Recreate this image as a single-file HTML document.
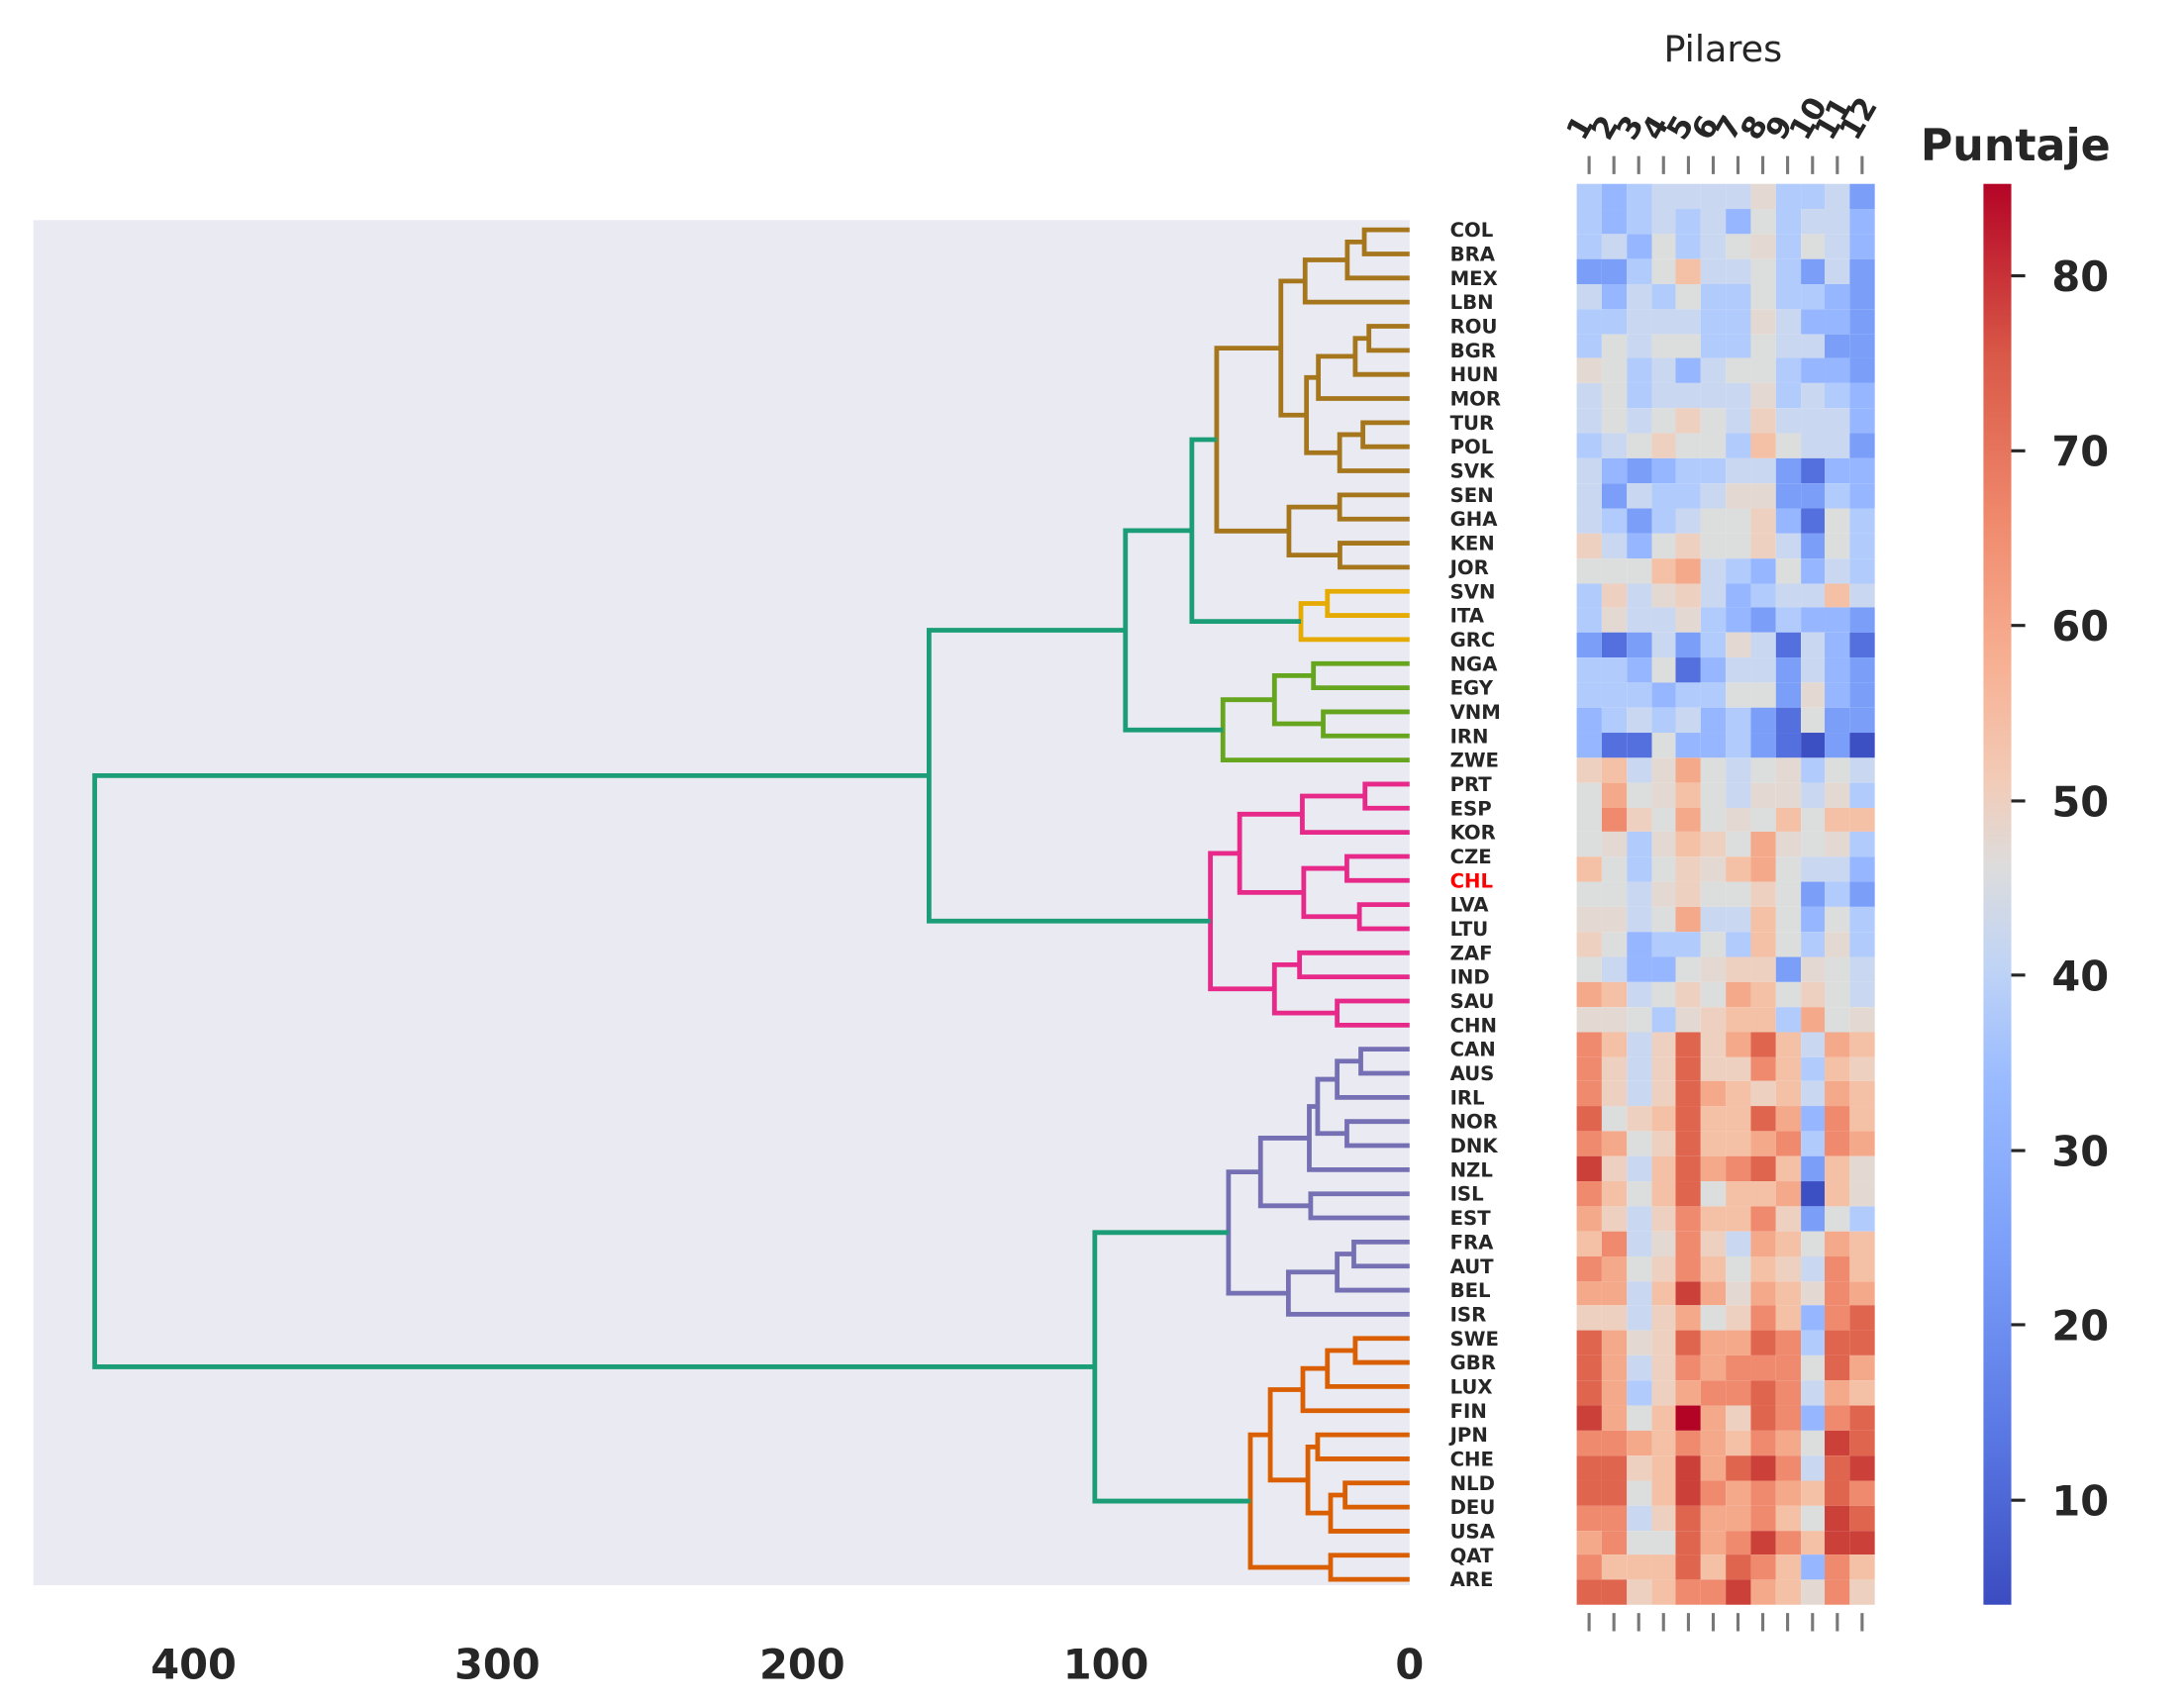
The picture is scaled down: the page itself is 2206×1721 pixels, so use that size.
<!DOCTYPE html>
<html><head><meta charset="utf-8"><style>
html,body{margin:0;padding:0;background:#fff;}
#w{position:absolute;left:0;top:0;width:1568px;height:1223px;transform:scale(1.40689);transform-origin:0 0;font-family:"DejaVu Sans","Liberation Sans",sans-serif;}
#hm{position:absolute;left:1132px;top:132.2px;width:214px;height:1020px;display:grid;grid-template-columns:repeat(12,1fr);grid-template-rows:repeat(57,1fr);}
#hm i{display:block;}
.A{background:#3d50c3}.B{background:#5470de}.C{background:#7b9ff9}.D{background:#96b7ff}.E{background:#b1cbfc}.F{background:#c9d7f0}.G{background:#dcdddd}.g{background:#e4d9d2}.H{background:#eed0c0}.I{background:#f4c0a6}.J{background:#f5a98b}.K{background:#ef8a6e}.L{background:#e0654f}.M{background:#cc403a}.N{background:#b40426}
#cb{position:absolute;left:1424px;top:132.2px;width:19.5px;height:1020px;background:linear-gradient(to top,#3b4cc0 0%,#5a78e4 12%,#7b9ff9 25%,#9abbff 37%,#c0d4f5 45%,#dddcdc 52%,#f2cbb7 58%,#f7b194 66%,#f08b6e 76%,#d95847 88%,#b40426 100%);}
</style></head><body><div id="w">
<svg width="1568" height="1223" style="position:absolute;left:0;top:0" xmlns="http://www.w3.org/2000/svg">
<rect x="24" y="158" width="988" height="980" fill="#eaeaf2"/>
<g fill="none" stroke-width="3.4" stroke-linejoin="miter">
<g stroke="#a6761d">
<path d="M1012 165H979.5V182.3H1012"/><path d="M979.5 173.7H967.3V199.6H1012"/><path d="M967.3 186.6H937V216.9H1012"/>
<path d="M1012 234.2H982.8V251.5H1012"/><path d="M982.8 242.9H973V268.8H1012"/><path d="M973 255.8H946.5V286.1H1012"/>
<path d="M1012 303.4H978.5V320.7H1012"/><path d="M978.5 312H961.8V338H1012"/><path d="M946.5 271H938V325H961.8"/>
<path d="M937 201.8H919.6V298H938"/><path d="M1012 355.3H961.8V372.6H1012"/><path d="M1012 389.9H962V407.2H1012"/>
<path d="M961.8 364H925.4V398.5H962"/><path d="M919.6 249.9H873.5V381.2H925.4"/>
</g>
<g stroke="#e6ab02"><path d="M1012 424.5H953V441.8H1012"/><path d="M953 433.2H934V459.1H1012"/></g>
<g stroke="#66a61e"><path d="M1012 476.4H943V493.7H1012"/><path d="M1012 511H950V528.3H1012"/><path d="M943 485H915V519.6H950"/><path d="M915 502.3H878V545.6H1012"/></g>
<g stroke="#e7298a"><path d="M1012 562.9H980V580.2H1012"/><path d="M980 571.5H935V597.5H1012"/><path d="M1012 614.8H967V632.1H1012"/><path d="M1012 649.4H976V666.7H1012"/><path d="M967 623.4H936V658H976"/><path d="M935 584.5H890V640.7H936"/><path d="M1012 684H933V701.3H1012"/><path d="M1012 718.6H960V735.9H1012"/><path d="M933 692.6H915V727.2H960"/><path d="M890 612.6H869V709.9H915"/></g>
<g stroke="#7570b3"><path d="M1012 753.2H977V770.5H1012"/><path d="M977 761.8H960V787.8H1012"/><path d="M1012 805.1H967V822.4H1012"/><path d="M960 774.8H946V813.7H967"/><path d="M946 794.3H940V839.7H1012"/><path d="M1012 857H941V874.3H1012"/><path d="M940 817H905V865.6H941"/><path d="M1012 891.6H972V908.9H1012"/><path d="M972 900.2H960V926.2H1012"/><path d="M960 913.2H925V943.5H1012"/><path d="M905 841.3H882V928.4H925"/></g>
<g stroke="#d95f02"><path d="M1012 960.8H973V978.1H1012"/><path d="M973 969.5H953V995.4H1012"/><path d="M953 982.4H935.4V1012.7H1012"/><path d="M1012 1030H946V1047.3H1012"/><path d="M1012 1064.6H965.7V1081.9H1012"/><path d="M965.7 1073.3H955.3V1099.2H1012"/><path d="M946 1038.7H939V1086.2H955.3"/><path d="M935.4 997.6H912V1062.5H939"/><path d="M1012 1116.5H955.3V1133.8H1012"/><path d="M912 1030H897.7V1125.2H955.3"/></g>
<g stroke="#1b9e77"><path d="M873.5 315.6H855.7V446.1H934"/><path d="M855.7 380.9H808V524H878"/><path d="M808 452.4H667V661.2H869"/><path d="M882 884.8H786V1077.6H897.7"/><path d="M667 556.8H68V981.2H786"/></g>
</g>
<g font-weight="bold" font-size="14" fill="#262626">
<text x="1041" y="170">COL</text><text x="1041" y="187.3">BRA</text><text x="1041" y="204.6">MEX</text><text x="1041" y="221.9">LBN</text><text x="1041" y="239.2">ROU</text><text x="1041" y="256.5">BGR</text><text x="1041" y="273.8">HUN</text><text x="1041" y="291.1">MOR</text><text x="1041" y="308.4">TUR</text><text x="1041" y="325.7">POL</text><text x="1041" y="343">SVK</text><text x="1041" y="360.3">SEN</text><text x="1041" y="377.6">GHA</text><text x="1041" y="394.9">KEN</text><text x="1041" y="412.2">JOR</text><text x="1041" y="429.5">SVN</text><text x="1041" y="446.8">ITA</text><text x="1041" y="464.1">GRC</text><text x="1041" y="481.4">NGA</text><text x="1041" y="498.7">EGY</text><text x="1041" y="516">VNM</text><text x="1041" y="533.3">IRN</text><text x="1041" y="550.6">ZWE</text><text x="1041" y="567.9">PRT</text><text x="1041" y="585.2">ESP</text><text x="1041" y="602.5">KOR</text><text x="1041" y="619.8">CZE</text><text x="1041" y="637.1" fill="#ff0000">CHL</text><text x="1041" y="654.4">LVA</text><text x="1041" y="671.7">LTU</text><text x="1041" y="689">ZAF</text><text x="1041" y="706.3">IND</text><text x="1041" y="723.6">SAU</text><text x="1041" y="740.9">CHN</text><text x="1041" y="758.2">CAN</text><text x="1041" y="775.5">AUS</text><text x="1041" y="792.8">IRL</text><text x="1041" y="810.1">NOR</text><text x="1041" y="827.4">DNK</text><text x="1041" y="844.7">NZL</text><text x="1041" y="862">ISL</text><text x="1041" y="879.3">EST</text><text x="1041" y="896.6">FRA</text><text x="1041" y="913.9">AUT</text><text x="1041" y="931.2">BEL</text><text x="1041" y="948.5">ISR</text><text x="1041" y="965.8">SWE</text><text x="1041" y="983.1">GBR</text><text x="1041" y="1000.4">LUX</text><text x="1041" y="1017.7">FIN</text><text x="1041" y="1035">JPN</text><text x="1041" y="1052.3">CHE</text><text x="1041" y="1069.6">NLD</text><text x="1041" y="1086.9">DEU</text><text x="1041" y="1104.2">USA</text><text x="1041" y="1121.5">QAT</text><text x="1041" y="1138.8">ARE</text>
</g>
<g font-weight="bold" font-size="29.5" fill="#262626" text-anchor="middle">
<text x="139" y="1205">400</text><text x="357" y="1205">300</text><text x="576" y="1205">200</text><text x="794" y="1205">100</text><text x="1012" y="1205">0</text>
</g>
<text x="1237" y="44" font-size="26" fill="#262626" text-anchor="middle">Pilares</text>
<text x="1447" y="115" font-size="31.5" font-weight="bold" fill="#262626" text-anchor="middle">Puntaje</text>
<g stroke="#777" stroke-width="2.2">
<path d="M1140.9 112V125M1158.7 112V125M1176.5 112V125M1194.3 112V125M1212.2 112V125M1230 112V125M1247.8 112V125M1265.6 112V125M1283.4 112V125M1301.3 112V125M1319.1 112V125M1336.9 112V125"/>
<path d="M1140.9 1158V1171M1158.7 1158V1171M1176.5 1158V1171M1194.3 1158V1171M1212.2 1158V1171M1230 1158V1171M1247.8 1158V1171M1265.6 1158V1171M1283.4 1158V1171M1301.3 1158V1171M1319.1 1158V1171M1336.9 1158V1171"/>
</g>
<g font-weight="bold" font-size="22" fill="#262626">
<text transform="translate(1137,102) rotate(-60)">1</text><text transform="translate(1155,102) rotate(-60)">2</text><text transform="translate(1173,102) rotate(-60)">3</text><text transform="translate(1191,102) rotate(-60)">4</text><text transform="translate(1209,102) rotate(-60)">5</text><text transform="translate(1227,102) rotate(-60)">6</text><text transform="translate(1244,102) rotate(-60)">7</text><text transform="translate(1262,102) rotate(-60)">8</text><text transform="translate(1280,102) rotate(-60)">9</text><text transform="translate(1297,102) rotate(-60)">10</text><text transform="translate(1315,102) rotate(-60)">11</text><text transform="translate(1333,102) rotate(-60)">12</text>
</g>
<g stroke="#262626" stroke-width="2.2"><path d="M1443 198H1454M1443 323.6H1454M1443 449H1454M1443 575H1454M1443 700H1454M1443 826H1454M1443 951H1454M1443 1077H1454"/></g>
<g font-weight="bold" font-size="29.5" fill="#262626">
<text x="1473" y="209">80</text><text x="1473" y="334.6">70</text><text x="1473" y="460">60</text><text x="1473" y="586">50</text><text x="1473" y="711">40</text><text x="1473" y="837">30</text><text x="1473" y="962">20</text><text x="1473" y="1088">10</text>
</g>
</svg>
<div id="cb"></div>
<div id="hm">
<i class=E></i><i class=D></i><i class=E></i><i class=F></i><i class=F></i><i class=F></i><i class=F></i><i class=g></i><i class=E></i><i class=E></i><i class=F></i><i class=C></i>
<i class=E></i><i class=D></i><i class=E></i><i class=F></i><i class=E></i><i class=F></i><i class=D></i><i class=G></i><i class=E></i><i class=F></i><i class=F></i><i class=D></i>
<i class=E></i><i class=F></i><i class=D></i><i class=G></i><i class=E></i><i class=F></i><i class=G></i><i class=g></i><i class=E></i><i class=G></i><i class=F></i><i class=D></i>
<i class=C></i><i class=C></i><i class=E></i><i class=G></i><i class=I></i><i class=F></i><i class=F></i><i class=G></i><i class=E></i><i class=C></i><i class=F></i><i class=C></i>
<i class=F></i><i class=D></i><i class=F></i><i class=E></i><i class=G></i><i class=E></i><i class=E></i><i class=G></i><i class=E></i><i class=E></i><i class=D></i><i class=C></i>
<i class=E></i><i class=E></i><i class=F></i><i class=F></i><i class=F></i><i class=E></i><i class=E></i><i class=g></i><i class=F></i><i class=D></i><i class=D></i><i class=C></i>
<i class=E></i><i class=G></i><i class=F></i><i class=G></i><i class=G></i><i class=E></i><i class=E></i><i class=G></i><i class=F></i><i class=F></i><i class=C></i><i class=C></i>
<i class=g></i><i class=G></i><i class=E></i><i class=F></i><i class=D></i><i class=F></i><i class=G></i><i class=G></i><i class=E></i><i class=D></i><i class=D></i><i class=C></i>
<i class=F></i><i class=G></i><i class=E></i><i class=F></i><i class=F></i><i class=F></i><i class=F></i><i class=g></i><i class=E></i><i class=F></i><i class=E></i><i class=D></i>
<i class=F></i><i class=G></i><i class=F></i><i class=G></i><i class=H></i><i class=G></i><i class=F></i><i class=H></i><i class=F></i><i class=F></i><i class=F></i><i class=D></i>
<i class=E></i><i class=F></i><i class=G></i><i class=H></i><i class=G></i><i class=G></i><i class=E></i><i class=I></i><i class=G></i><i class=F></i><i class=F></i><i class=C></i>
<i class=F></i><i class=D></i><i class=C></i><i class=D></i><i class=E></i><i class=E></i><i class=F></i><i class=F></i><i class=C></i><i class=B></i><i class=D></i><i class=D></i>
<i class=F></i><i class=C></i><i class=F></i><i class=E></i><i class=E></i><i class=F></i><i class=g></i><i class=g></i><i class=C></i><i class=C></i><i class=E></i><i class=D></i>
<i class=F></i><i class=E></i><i class=C></i><i class=E></i><i class=F></i><i class=G></i><i class=G></i><i class=H></i><i class=D></i><i class=B></i><i class=G></i><i class=E></i>
<i class=H></i><i class=F></i><i class=D></i><i class=G></i><i class=H></i><i class=G></i><i class=G></i><i class=H></i><i class=F></i><i class=C></i><i class=G></i><i class=E></i>
<i class=G></i><i class=G></i><i class=G></i><i class=I></i><i class=J></i><i class=F></i><i class=E></i><i class=D></i><i class=G></i><i class=D></i><i class=F></i><i class=E></i>
<i class=E></i><i class=H></i><i class=F></i><i class=g></i><i class=H></i><i class=F></i><i class=D></i><i class=E></i><i class=F></i><i class=F></i><i class=I></i><i class=F></i>
<i class=E></i><i class=g></i><i class=F></i><i class=F></i><i class=g></i><i class=E></i><i class=D></i><i class=C></i><i class=E></i><i class=D></i><i class=D></i><i class=C></i>
<i class=C></i><i class=B></i><i class=C></i><i class=F></i><i class=C></i><i class=E></i><i class=g></i><i class=F></i><i class=B></i><i class=F></i><i class=D></i><i class=B></i>
<i class=E></i><i class=E></i><i class=D></i><i class=G></i><i class=B></i><i class=D></i><i class=F></i><i class=F></i><i class=C></i><i class=F></i><i class=D></i><i class=C></i>
<i class=E></i><i class=E></i><i class=E></i><i class=D></i><i class=E></i><i class=E></i><i class=G></i><i class=G></i><i class=C></i><i class=g></i><i class=D></i><i class=C></i>
<i class=D></i><i class=E></i><i class=F></i><i class=E></i><i class=F></i><i class=D></i><i class=E></i><i class=C></i><i class=B></i><i class=G></i><i class=C></i><i class=C></i>
<i class=D></i><i class=B></i><i class=B></i><i class=G></i><i class=D></i><i class=D></i><i class=E></i><i class=C></i><i class=B></i><i class=A></i><i class=C></i><i class=A></i>
<i class=H></i><i class=I></i><i class=F></i><i class=g></i><i class=J></i><i class=G></i><i class=F></i><i class=G></i><i class=g></i><i class=E></i><i class=G></i><i class=F></i>
<i class=G></i><i class=J></i><i class=G></i><i class=g></i><i class=I></i><i class=G></i><i class=F></i><i class=g></i><i class=g></i><i class=F></i><i class=g></i><i class=E></i>
<i class=G></i><i class=K></i><i class=H></i><i class=G></i><i class=J></i><i class=G></i><i class=g></i><i class=G></i><i class=I></i><i class=G></i><i class=I></i><i class=I></i>
<i class=G></i><i class=g></i><i class=E></i><i class=g></i><i class=I></i><i class=H></i><i class=G></i><i class=J></i><i class=g></i><i class=G></i><i class=g></i><i class=E></i>
<i class=I></i><i class=G></i><i class=E></i><i class=G></i><i class=H></i><i class=g></i><i class=I></i><i class=J></i><i class=G></i><i class=F></i><i class=F></i><i class=D></i>
<i class=G></i><i class=G></i><i class=F></i><i class=g></i><i class=H></i><i class=G></i><i class=G></i><i class=H></i><i class=G></i><i class=C></i><i class=E></i><i class=C></i>
<i class=g></i><i class=g></i><i class=F></i><i class=G></i><i class=J></i><i class=F></i><i class=F></i><i class=I></i><i class=G></i><i class=D></i><i class=G></i><i class=E></i>
<i class=H></i><i class=G></i><i class=D></i><i class=E></i><i class=E></i><i class=G></i><i class=E></i><i class=I></i><i class=G></i><i class=E></i><i class=g></i><i class=E></i>
<i class=G></i><i class=F></i><i class=D></i><i class=D></i><i class=G></i><i class=g></i><i class=H></i><i class=H></i><i class=C></i><i class=g></i><i class=G></i><i class=F></i>
<i class=J></i><i class=I></i><i class=F></i><i class=G></i><i class=H></i><i class=G></i><i class=J></i><i class=I></i><i class=G></i><i class=H></i><i class=G></i><i class=F></i>
<i class=g></i><i class=g></i><i class=G></i><i class=E></i><i class=g></i><i class=H></i><i class=I></i><i class=I></i><i class=E></i><i class=J></i><i class=G></i><i class=g></i>
<i class=K></i><i class=I></i><i class=F></i><i class=H></i><i class=L></i><i class=H></i><i class=J></i><i class=L></i><i class=I></i><i class=F></i><i class=J></i><i class=I></i>
<i class=K></i><i class=H></i><i class=F></i><i class=H></i><i class=L></i><i class=H></i><i class=H></i><i class=K></i><i class=I></i><i class=E></i><i class=I></i><i class=H></i>
<i class=K></i><i class=H></i><i class=F></i><i class=H></i><i class=L></i><i class=J></i><i class=I></i><i class=H></i><i class=I></i><i class=F></i><i class=J></i><i class=I></i>
<i class=L></i><i class=G></i><i class=H></i><i class=I></i><i class=L></i><i class=I></i><i class=I></i><i class=L></i><i class=J></i><i class=D></i><i class=K></i><i class=I></i>
<i class=K></i><i class=J></i><i class=G></i><i class=H></i><i class=L></i><i class=I></i><i class=I></i><i class=J></i><i class=K></i><i class=E></i><i class=K></i><i class=J></i>
<i class=M></i><i class=H></i><i class=F></i><i class=I></i><i class=L></i><i class=J></i><i class=K></i><i class=L></i><i class=I></i><i class=C></i><i class=I></i><i class=g></i>
<i class=K></i><i class=I></i><i class=G></i><i class=I></i><i class=L></i><i class=G></i><i class=I></i><i class=I></i><i class=J></i><i class=A></i><i class=I></i><i class=g></i>
<i class=J></i><i class=H></i><i class=F></i><i class=H></i><i class=K></i><i class=I></i><i class=I></i><i class=K></i><i class=H></i><i class=C></i><i class=G></i><i class=E></i>
<i class=I></i><i class=K></i><i class=F></i><i class=g></i><i class=K></i><i class=H></i><i class=F></i><i class=J></i><i class=I></i><i class=G></i><i class=J></i><i class=I></i>
<i class=K></i><i class=J></i><i class=G></i><i class=H></i><i class=K></i><i class=I></i><i class=G></i><i class=I></i><i class=H></i><i class=F></i><i class=K></i><i class=I></i>
<i class=J></i><i class=J></i><i class=F></i><i class=I></i><i class=M></i><i class=J></i><i class=g></i><i class=J></i><i class=I></i><i class=g></i><i class=K></i><i class=J></i>
<i class=H></i><i class=H></i><i class=F></i><i class=H></i><i class=J></i><i class=G></i><i class=H></i><i class=K></i><i class=I></i><i class=D></i><i class=K></i><i class=L></i>
<i class=L></i><i class=J></i><i class=g></i><i class=H></i><i class=L></i><i class=J></i><i class=J></i><i class=L></i><i class=K></i><i class=E></i><i class=L></i><i class=L></i>
<i class=L></i><i class=J></i><i class=F></i><i class=H></i><i class=K></i><i class=J></i><i class=K></i><i class=K></i><i class=K></i><i class=G></i><i class=L></i><i class=J></i>
<i class=L></i><i class=J></i><i class=E></i><i class=H></i><i class=J></i><i class=K></i><i class=K></i><i class=L></i><i class=K></i><i class=F></i><i class=J></i><i class=I></i>
<i class=M></i><i class=J></i><i class=G></i><i class=I></i><i class=N></i><i class=J></i><i class=H></i><i class=L></i><i class=K></i><i class=D></i><i class=K></i><i class=L></i>
<i class=K></i><i class=K></i><i class=J></i><i class=I></i><i class=K></i><i class=J></i><i class=I></i><i class=K></i><i class=J></i><i class=G></i><i class=M></i><i class=L></i>
<i class=L></i><i class=L></i><i class=H></i><i class=I></i><i class=M></i><i class=J></i><i class=L></i><i class=M></i><i class=K></i><i class=F></i><i class=L></i><i class=M></i>
<i class=L></i><i class=L></i><i class=G></i><i class=I></i><i class=M></i><i class=K></i><i class=J></i><i class=K></i><i class=J></i><i class=I></i><i class=L></i><i class=K></i>
<i class=K></i><i class=K></i><i class=F></i><i class=H></i><i class=L></i><i class=J></i><i class=J></i><i class=K></i><i class=I></i><i class=G></i><i class=M></i><i class=L></i>
<i class=J></i><i class=K></i><i class=G></i><i class=G></i><i class=L></i><i class=J></i><i class=K></i><i class=M></i><i class=K></i><i class=I></i><i class=M></i><i class=M></i>
<i class=K></i><i class=I></i><i class=I></i><i class=I></i><i class=L></i><i class=I></i><i class=L></i><i class=K></i><i class=I></i><i class=D></i><i class=K></i><i class=I></i>
<i class=L></i><i class=L></i><i class=H></i><i class=I></i><i class=K></i><i class=K></i><i class=M></i><i class=J></i><i class=I></i><i class=g></i><i class=K></i><i class=H></i>
</div>
</div></body></html>
